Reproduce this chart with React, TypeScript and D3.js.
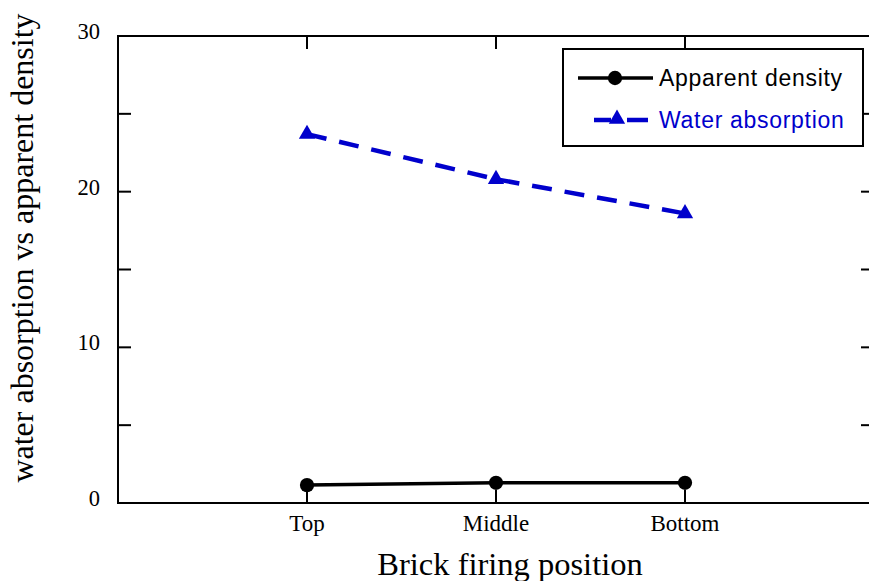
import React, { useEffect } from "react";
import * as d3 from "d3";

const categories = ["Top", "Middle", "Bottom"];
const apparentDensity = [1.15, 1.3, 1.3];
const waterAbsorption = [23.7, 20.8, 18.6];
const yTicks = [0, 5, 10, 15, 20, 25, 30];
const yLabels = [0, 10, 20, 30];

const W = 869;
const H = 581;
const left = 118;
const right = 874;
const top = 36;
const bottom = 503;
const BLUE = "#0000cc";

export default function App() {
  useEffect(() => {
    document.body.style.margin = "0";
  }, []);

  const x = d3.scaleLinear().domain([0, 4]).range([left, right]);
  const y = d3.scaleLinear().domain([0, 30]).range([bottom, top]);
  const xi = (i: number) => x(i + 1);

  const line = d3
    .line<number>()
    .x((_, i) => xi(i))
    .y((d) => y(d));

  const circle = d3.symbol().type(d3.symbolCircle).size(160)() as string;
  const tri = d3.symbol().type(d3.symbolTriangle).size(115)() as string;

  const tickLen = 13;
  const serif = "'Liberation Serif', 'Times New Roman', serif";
  const sans = "'Liberation Sans', Arial, sans-serif";

  return (
    <svg
      width={W}
      height={H}
      style={{ display: "block", position: "absolute", left: 0, top: 0, background: "#fff" }}
    >
      <rect x={0} y={0} width={W} height={H} fill="#fff" />
      {/* frame */}
      <rect x={left} y={top} width={right - left} height={bottom - top} fill="none" stroke="#000" strokeWidth={2} />
      {/* y ticks left and right */}
      {yTicks.map((t) => (
        <g key={"yt" + t}>
          <line x1={left} x2={left + tickLen} y1={y(t)} y2={y(t)} stroke="#000" strokeWidth={2} />
          <line x1={right} x2={right - tickLen} y1={y(t)} y2={y(t)} stroke="#000" strokeWidth={2} />
        </g>
      ))}
      {yLabels.map((t) => (
        <text key={"yl" + t} x={100} y={y(t) + 3} textAnchor="end" fontFamily={serif} fontSize={22.5} fill="#000">
          {t}
        </text>
      ))}
      {/* x ticks bottom and top */}
      {categories.map((c, i) => (
        <g key={"xt" + c}>
          <line x1={xi(i)} x2={xi(i)} y1={bottom} y2={bottom - tickLen} stroke="#000" strokeWidth={2} />
          <line x1={xi(i)} x2={xi(i)} y1={top} y2={top + tickLen} stroke="#000" strokeWidth={2} />
          <text x={xi(i)} y={531} textAnchor="middle" fontFamily={serif} fontSize={23} fill="#000">
            {c}
          </text>
        </g>
      ))}
      {/* axis titles */}
      <text x={510} y={575} textAnchor="middle" fontFamily={serif} fontSize={32.5} fill="#000">
        Brick firing position
      </text>
      <text
        transform={`translate(33,248) rotate(-90)`}
        textAnchor="middle"
        fontFamily={serif}
        fontSize={32}
        fill="#000"
      >
        water absorption vs apparent density
      </text>
      {/* series */}
      <path d={line(waterAbsorption) as string} fill="none" stroke={BLUE} strokeWidth={4.5} strokeDasharray="20 13" />
      {waterAbsorption.map((v, i) => (
        <path key={"wa" + i} d={tri} transform={`translate(${xi(i)},${y(v)})`} fill={BLUE} />
      ))}
      <path d={line(apparentDensity) as string} fill="none" stroke="#000" strokeWidth={3.5} />
      {apparentDensity.map((v, i) => (
        <path key={"ad" + i} d={circle} transform={`translate(${xi(i)},${y(v)})`} fill="#000" />
      ))}
      {/* legend */}
      <rect x={563} y={49} width={300} height={97} fill="#fff" stroke="#000" strokeWidth={2} />
      <line x1={578} x2={653} y1={78} y2={78} stroke="#000" strokeWidth={3.5} />
      <path d={circle} transform="translate(615,78)" fill="#000" />
      <text x={659} y={86} fontFamily={sans} fontSize={23} fill="#000" letterSpacing={0.7}>
        Apparent density
      </text>
      <line x1={594} x2={648} y1={120} y2={120} stroke={BLUE} strokeWidth={4.5} strokeDasharray="17 16 21" />
      <path d={tri} transform="translate(617,119)" fill={BLUE} />
      <text x={659} y={128} fontFamily={sans} fontSize={23} fill={BLUE} letterSpacing={0.7}>
        Water absorption
      </text>
    </svg>
  );
}
